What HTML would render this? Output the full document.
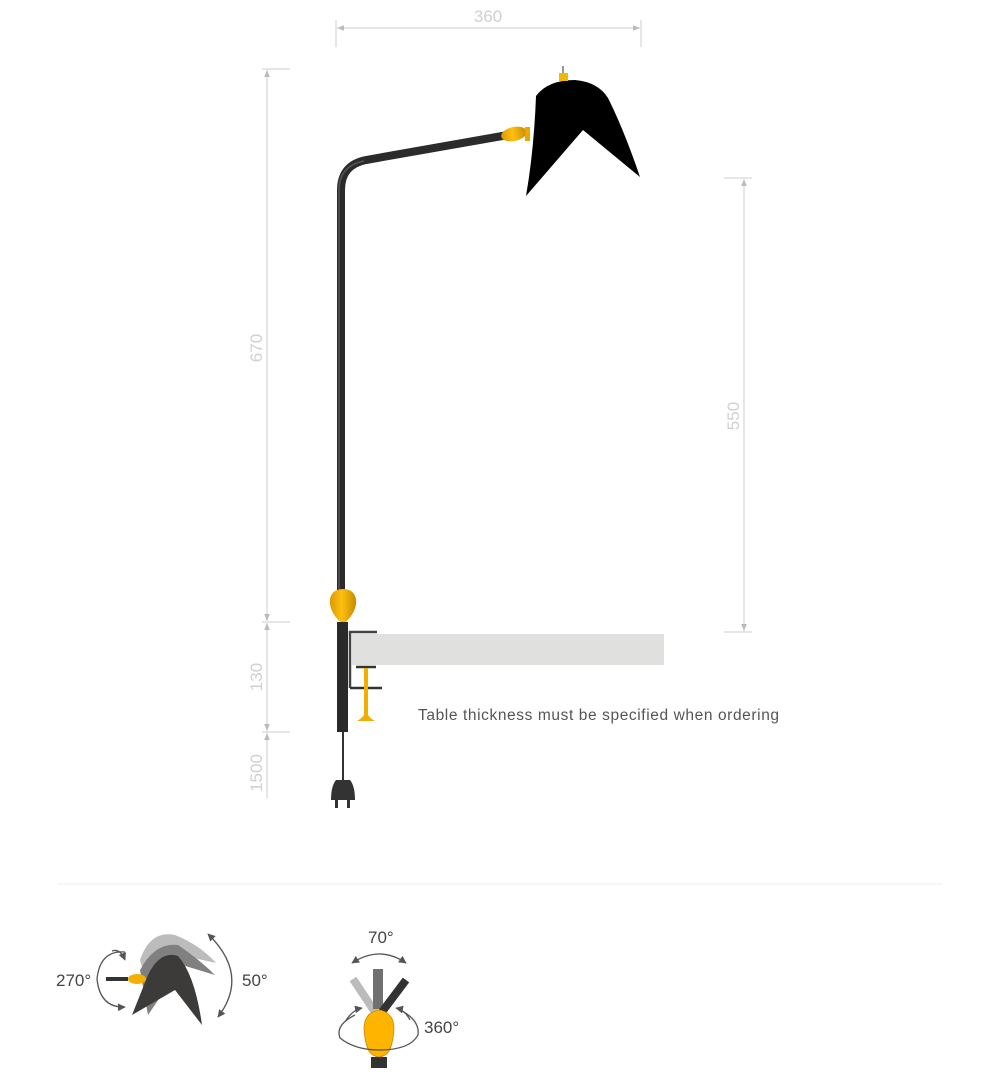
<!DOCTYPE html>
<html><head><meta charset="utf-8"><style>
html,body{margin:0;padding:0;background:#fff;}
svg{display:block;font-family:"Liberation Sans",sans-serif;}
</style></head><body>
<svg width="1000" height="1077" viewBox="0 0 1000 1077" xmlns="http://www.w3.org/2000/svg">
<defs>
<marker id="ar" viewBox="0 0 10 10" refX="10" refY="5" markerWidth="7" markerHeight="7" orient="auto-start-reverse"><path d="M0,1 L10,5 L0,9 z" fill="#bbb"/></marker>
<marker id="ad" viewBox="0 0 10 10" refX="9" refY="5" markerWidth="6" markerHeight="6" orient="auto-start-reverse"><path d="M0,0 L10,5 L0,10 z" fill="#555"/></marker>
<linearGradient id="yg" x1="0" x2="1"><stop offset="0" stop-color="#d99a00"/><stop offset="0.45" stop-color="#ffbf10"/><stop offset="1" stop-color="#c88a00"/></linearGradient>
</defs>
<g stroke="#ccc" stroke-width="1" fill="none">
<line x1="336" y1="20" x2="336" y2="47"/><line x1="641" y1="20" x2="641" y2="47"/>
<line x1="337" y1="28" x2="640" y2="28" marker-start="url(#ar)" marker-end="url(#ar)"/>
<line x1="262" y1="69" x2="290" y2="69"/><line x1="262" y1="622" x2="290" y2="622"/>
<line x1="262" y1="732" x2="290" y2="732"/>
<line x1="267" y1="70" x2="267" y2="621" marker-start="url(#ar)" marker-end="url(#ar)"/>
<line x1="267" y1="623" x2="267" y2="731" marker-start="url(#ar)" marker-end="url(#ar)"/>
<line x1="267" y1="733" x2="267" y2="798" marker-start="url(#ar)"/>
<line x1="724" y1="178" x2="752" y2="178"/><line x1="724" y1="632" x2="752" y2="632"/>
<line x1="744" y1="179" x2="744" y2="631" marker-start="url(#ar)" marker-end="url(#ar)"/>
<line x1="57" y1="884" x2="943" y2="884" stroke="#eee"/>
</g>
<g fill="#d0d0d0" font-size="17">
<text x="488" y="22" text-anchor="middle">360</text>
<text transform="translate(262,348) rotate(-90)" text-anchor="middle">670</text>
<text transform="translate(262,677) rotate(-90)" text-anchor="middle">130</text>
<text transform="translate(262,773) rotate(-90)" text-anchor="middle">1500</text>
<text transform="translate(739,416) rotate(-90)" text-anchor="middle">550</text>
</g>
<!-- pole & arm -->
<path d="M341,600 L341,190 Q341,165 366,160 L508,135" stroke="#2b2b2b" stroke-width="8" fill="none"/>
<path d="M339,600 L339,190 Q339,166 364,161" stroke="#555" stroke-width="1.5" fill="none"/>
<ellipse cx="514" cy="134" rx="13" ry="7" fill="url(#yg)" transform="rotate(-12 514 134)"/>
<rect x="525" y="127" width="5" height="14" fill="#e8a800"/>
<!-- shade -->
<path d="M536,96 Q548,80 575,80 Q598,82 608,98 Q624,130 640,177 L583,130 L526,196 Q534,150 536,96 Z" fill="#000"/>
<rect x="559" y="73" width="9" height="8" fill="#f2b800"/>
<line x1="563" y1="66" x2="563" y2="73" stroke="#999" stroke-width="2"/>
<!-- knob -->
<path d="M343,589 C353,589 357,596 356,604 C355,612 349,620 343,624 C337,620 331,612 330,604 C329,596 333,589 343,589Z" fill="url(#yg)"/>
<rect x="337" y="622" width="11" height="110" fill="#2a2a2a"/>
<!-- clamp -->
<rect x="352" y="634" width="312" height="31" fill="#e0e0de"/>
<path d="M377,632 L350,632 L350,688" stroke="#444" stroke-width="2.5" fill="none"/>
<line x1="356" y1="667" x2="376" y2="667" stroke="#333" stroke-width="2.5"/>
<line x1="350" y1="688" x2="382" y2="688" stroke="#333" stroke-width="2.5"/>
<line x1="366" y1="668" x2="366" y2="718" stroke="#f0b000" stroke-width="4"/>
<path d="M357,721 Q366,716 366,708 Q366,716 375,721 Z" fill="#f0b000"/>
<text x="418" y="720" font-size="15.5" letter-spacing="0.6" fill="#555">Table thickness must be specified when ordering</text>
<!-- cord & plug -->
<line x1="343" y1="732" x2="343" y2="780" stroke="#333" stroke-width="2"/>
<path d="M336,780 L350,780 Q355,786 355,800 L331,800 Q331,786 336,780Z" fill="#333"/>
<rect x="335" y="800" width="3" height="8" fill="#333"/><rect x="347" y="800" width="3" height="8" fill="#333"/>
<!-- bottom icon 1 -->
<path d="M140,960 Q150,930 175,935 Q200,945 216,963 L180,955 L150,995 Z" fill="#bcbcbc"/>
<path d="M140,970 Q155,942 178,945 Q200,960 215,975 L182,965 L148,1015 Z" fill="#808080"/>
<path d="M148,975 Q160,950 178,956 Q195,975 202,1025 L175,990 L132,1015 Z" fill="#3d3a3a"/>
<line x1="106" y1="979" x2="128" y2="979" stroke="#333" stroke-width="4"/>
<ellipse cx="137" cy="979" rx="9" ry="5" fill="#f3b000"/>
<path d="M125,952 Q100,950 97,979 Q100,1008 125,1007" stroke="#555" stroke-width="1.3" fill="none" marker-end="url(#ad)"/>
<path d="M112,951 Q120,948 125,960" stroke="#555" stroke-width="1.3" fill="none" marker-end="url(#ad)"/>
<path d="M208,934 Q250,975 218,1017" stroke="#555" stroke-width="1.3" fill="none" marker-start="url(#ad)" marker-end="url(#ad)"/>
<g font-size="17" fill="#444">
<text x="56" y="986">270°</text>
<text x="242" y="986">50°</text>
<text x="368" y="943">70°</text>
<text x="424" y="1033">360°</text>
</g>
<!-- bottom icon 2 -->
<path d="M352,963 Q380,945 406,963" stroke="#555" stroke-width="1.3" fill="none" marker-start="url(#ad)" marker-end="url(#ad)"/>
<line x1="353" y1="979" x2="375" y2="1012" stroke="#bbb" stroke-width="8"/>
<rect x="373" y="969" width="10" height="40" fill="#707070"/>
<line x1="406" y1="980" x2="382" y2="1012" stroke="#333" stroke-width="8"/>
<path d="M379,1010 C392,1012 396,1022 393,1038 C391,1050 388,1056 379,1057 C370,1056 367,1050 365,1038 C362,1022 366,1012 379,1010Z" fill="#ffb400" stroke="#c88a00" stroke-width="0.8"/>
<rect x="371" y="1057" width="16" height="11" fill="#333"/>
<path d="M355,1015 Q335,1025 340,1038 Q355,1050 379,1050 Q410,1050 418,1035 Q420,1020 400,1010" stroke="#555" stroke-width="1.3" fill="none"/>
<path d="M345,1022 Q352,1010 362,1008" stroke="#555" stroke-width="1.3" fill="none" marker-end="url(#ad)"/>
<path d="M410,1020 Q405,1010 396,1008" stroke="#555" stroke-width="1.3" fill="none" marker-end="url(#ad)"/>
</svg>
</body></html>
